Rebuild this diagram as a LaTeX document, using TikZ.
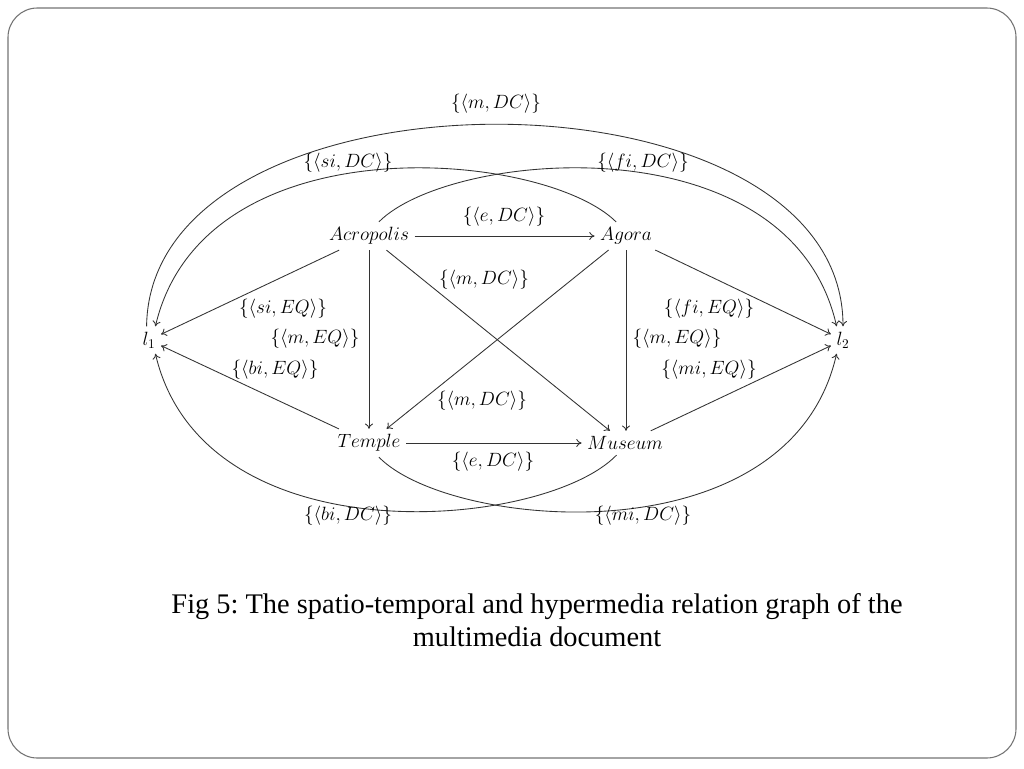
\documentclass[tikz,border=0pt]{standalone}
\usepackage{fontspec}
\setmainfont{Liberation Serif}
\usetikzlibrary{arrows.meta}
\frenchspacing
\begin{document}
\begin{tikzpicture}[x=0.75pt,y=-0.75pt,
  lbl/.style={font=\fontsize{14}{17}\selectfont, inner sep=0pt},
  vtx/.style={font=\fontsize{14}{17}\selectfont, inner sep=4pt},
  edge/.style={draw=black!80, line width=0.65pt},
  arr/.style={edge, -{To[length=4pt,width=6pt]}}]
\useasboundingbox (0,0) rectangle (1024,768);
\draw[black!55, line width=0.8pt, rounded corners=22pt] (8,8) rectangle (1016,758);

% vertices
\node[vtx] (acr) at (369,236) {$Acropolis$};
\node[vtx] (ago) at (626,236) {$Agora$};
\node[vtx] (tem) at (369,443) {$Temple$};
\node[vtx] (mus) at (625,443) {$Museum$};
\node[vtx] (l1) at (149,340) {$l_1$};
\node[vtx] (l2) at (843,340) {$l_2$};

% straight edges
\draw[arr] (acr) -- (ago);
\draw[arr] (tem) -- (mus);
\draw[arr] (acr) -- (tem);
\draw[arr] (ago) -- (ago |- mus.north);
\draw[arr] (acr) -- (mus);
\draw[arr] (ago) -- (tem);
\draw[arr] (acr) -- (l1);
\draw[arr] (tem) -- (l1);
\draw[arr] (ago) -- (l2);
\draw[arr] (mus) -- (l2);

% curved edges
\draw[arr] (l1.100) .. controls (150,57) and (843,57) .. (l2.north);
\draw[arr] (acr.55) .. controls (450,150) and (790,120) .. (l2.115);
\draw[arr] (ago.125) .. controls (544,150) and (204,120) .. (l1.65);
\draw[arr] (tem.-55) .. controls (450,530) and (790,560) .. (l2.-115);
\draw[arr] (mus.-125) .. controls (544,530) and (204,560) .. (l1.-65);

% labels
\node[lbl] (t1) at (496,104) {$\{\langle m, DC\rangle\}$};
\node[lbl] (t2) at (348,163) {$\{\langle si, DC\rangle\}$};
\node[lbl] (t3) at (643,163) {$\{\langle fi, DC\rangle\}$};
\node[lbl] (t4) at (504,217) {$\{\langle e, DC\rangle\}$};
\node[lbl] (t5) at (484,280) {$\{\langle m, DC\rangle\}$};
\node[lbl] (t6) at (283,309) {$\{\langle si, EQ\rangle\}$};
\node[lbl] (t7) at (709,309) {$\{\langle fi, EQ\rangle\}$};
\node[lbl] (t8) at (315,339) {$\{\langle m, EQ\rangle\}$};
\node[lbl] (t9) at (677,339) {$\{\langle m, EQ\rangle\}$};
\node[lbl] (t10) at (275,370) {$\{\langle bi, EQ\rangle\}$};
\node[lbl] (t11) at (709,370) {$\{\langle mi, EQ\rangle\}$};
\node[lbl] (t12) at (482,401) {$\{\langle m, DC\rangle\}$};
\node[lbl] (t13) at (493,462) {$\{\langle e, DC\rangle\}$};
\node[lbl] (t14) at (348,516) {$\{\langle bi, DC\rangle\}$};
\node[lbl] (t15) at (643,516) {$\{\langle mi, DC\rangle\}$};

% caption
\node[align=center, font=\fontsize{21.3}{25}\selectfont, inner sep=0pt] (cap) at (537,620)
  {Fig 5: The spatio-temporal and hypermedia relation graph of the\\multimedia document};
\end{tikzpicture}
\end{document}
